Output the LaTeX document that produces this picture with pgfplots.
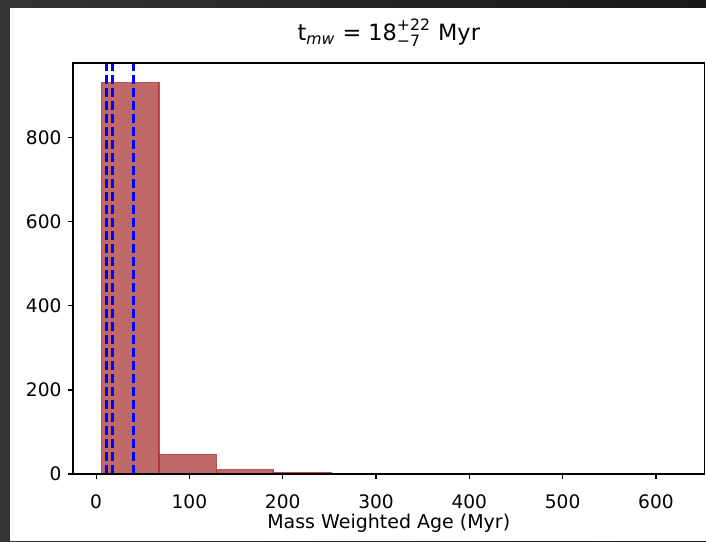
\documentclass[border=0pt]{standalone}
\usepackage{fontspec}
\setmainfont{DejaVu Sans}
\usepackage{amsmath}
\usepackage{pgfplots}
\pgfplotsset{compat=1.18}
\definecolor{mplbrown}{RGB}{165,42,42}
\definecolor{bgL}{RGB}{52,52,52}
\definecolor{bgR}{RGB}{24,24,24}
\begin{document}
\fontsize{9.2pt}{11pt}\selectfont
\begin{tikzpicture}
\useasboundingbox (-36.5pt,-33.5pt) rectangle (316.5pt,237pt);
\shade[left color=bgL, right color=bgR] (-36.5pt,-33.5pt) rectangle (316.5pt,237pt);
\fill[white] (-31.5pt,-33.5pt) rectangle (316.5pt,233pt);
\begin{axis}[
  at={(0,0)}, anchor=south west,
  scale only axis, width=315.75pt, height=205.5pt,
  xmin=-24.7, xmax=652, ymin=0, ymax=978,
  xtick={0,100,...,600}, ytick={0,200,...,800},
  xtick pos=bottom, ytick pos=left,
  tick align=outside, major tick length=2.5pt,
  axis line style={line width=0.55pt},
  every tick/.style={line width=0.55pt, black},
  /pgf/number format/assume math mode=true,
  tick label style={font=\fontsize{9.3pt}{11pt}\selectfont},
  xticklabel style={anchor=base, yshift=-14.5pt},
  xlabel={Mass Weighted Age (Myr)},
  xlabel style={font=\fontsize{9.5pt}{11pt}\selectfont, at={(axis description cs:0.5,0)}, anchor=base, yshift=-27pt},
  title={t$_{\text{\itshape mw}}$ = $\text{18}^{\text{+22}}_{\text{−7}}$ Myr},
  title style={font=\fontsize{11.2pt}{13pt}\selectfont, at={(axis description cs:0.5,1)}, anchor=base, yshift=5pt},
  axis on top,
  clip=true,
]
\addplot[ybar interval, fill=mplbrown, fill opacity=0.7, draw=mplbrown, draw opacity=0.75, line width=0.6pt] coordinates {
 (6,931) (67.5,47) (129,10) (190.5,4) (252,2) (313.5,1) (375,0) (436.5,0) (498,0) (559.5,1) (621,1)
};
\addplot[blue, line width=1.4pt, dash pattern=on 4.5pt off 2pt] coordinates {(11,0) (11,978)};
\addplot[blue, line width=1.4pt, dash pattern=on 4.5pt off 2pt] coordinates {(18,0) (18,978)};
\addplot[blue, line width=1.4pt, dash pattern=on 4.5pt off 2pt] coordinates {(40,0) (40,978)};
\end{axis}
\end{tikzpicture}
\end{document}
